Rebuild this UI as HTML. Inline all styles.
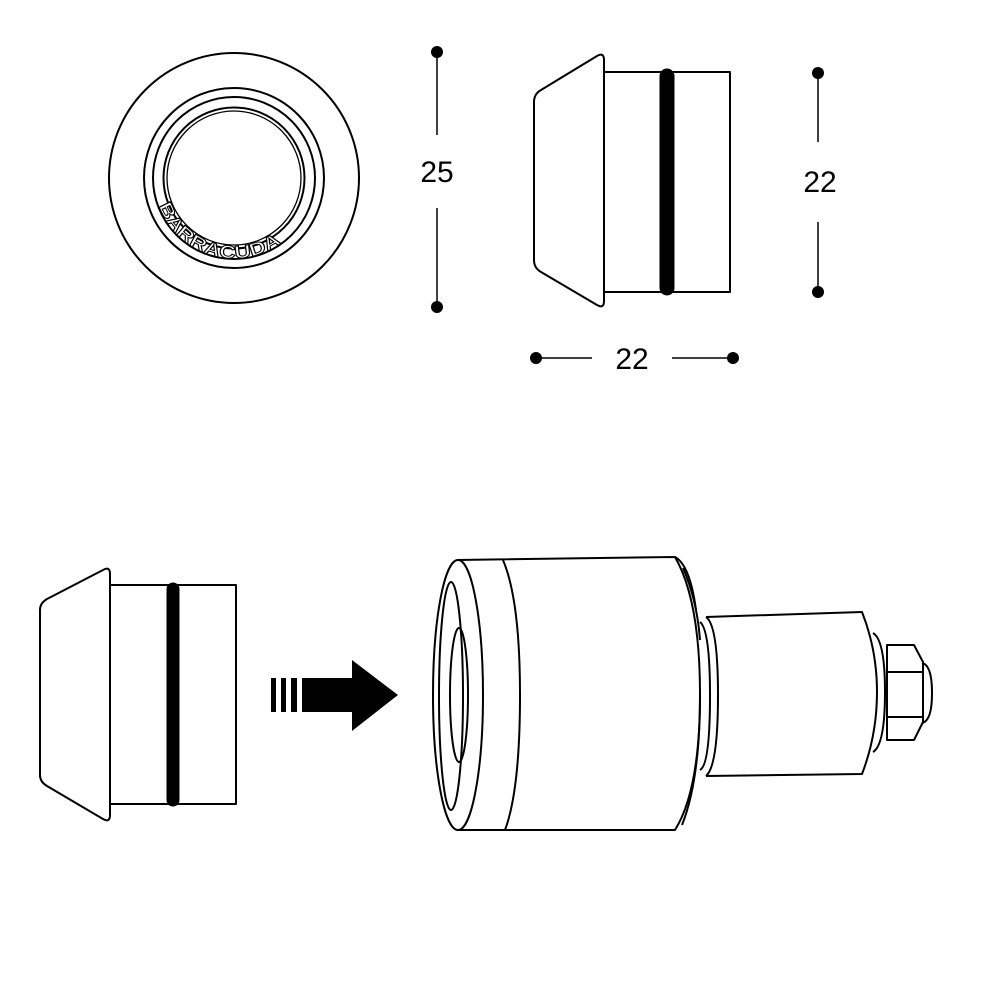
<!DOCTYPE html>
<html><head><style>html,body{margin:0;padding:0;background:#fff}svg{display:block}</style></head>
<body>
<svg width="1000" height="1000" viewBox="0 0 1000 1000" xmlns="http://www.w3.org/2000/svg">
<defs><path id="arc" d="M 157 200 A 80 80 0 0 0 311 200"/></defs>
<g fill="none" stroke="#000" stroke-width="2">
<circle cx="234" cy="178" r="125"/>
<circle cx="234" cy="178" r="90"/>
<circle cx="234" cy="178" r="81"/>
<circle cx="234" cy="178" r="70.5"/>
<circle cx="234" cy="178" r="67" stroke-width="1.3"/>
</g>
<text font-family="'Liberation Sans', sans-serif" font-size="18" font-weight="bold" fill="#fff" stroke="#000" stroke-width="1"><textPath href="#arc" startOffset="6" textLength="148" lengthAdjust="spacingAndGlyphs">BARRACUDA</textPath></text>
<g stroke="#000" stroke-width="1.5">
<line x1="437" y1="52" x2="437" y2="135"/><line x1="437" y1="208" x2="437" y2="307"/>
<line x1="818" y1="73" x2="818" y2="142"/><line x1="818" y1="222" x2="818" y2="292"/>
<line x1="536" y1="358" x2="592" y2="358"/><line x1="672" y1="358" x2="733" y2="358"/>
</g>
<g fill="#000">
<circle cx="437" cy="52" r="6"/><circle cx="437" cy="307" r="6"/>
<circle cx="818" cy="73" r="6"/><circle cx="818" cy="292" r="6"/>
<circle cx="536" cy="358" r="6"/><circle cx="733" cy="358" r="6"/>
</g>
<g font-family="Liberation Sans, sans-serif" font-size="30" text-anchor="middle" fill="#000">
<text x="437" y="182">25</text>
<text x="820" y="192">22</text>
<text x="632" y="369">22</text>
</g>
<g fill="none" stroke="#000" stroke-width="2" stroke-linejoin="round">
<path d="M604 60 Q604 52 597 56 L541 90 Q534 94 534 102 L534 260 Q534 268 541 272 L597 305 Q604 309 604 301 Z"/>
<rect x="604" y="72" width="126" height="220"/>
<path d="M40 610 Q40 603 47 599 L103 570 Q110 566 110 574 L110 815 Q110 823 103 819 L47 786 Q40 782 40 775 Z"/>
<rect x="110" y="585" width="126" height="219"/>
</g>
<line x1="667" y1="76" x2="667" y2="288" stroke="#000" stroke-width="15" stroke-linecap="round"/>
<line x1="173" y1="589" x2="173" y2="800" stroke="#000" stroke-width="13" stroke-linecap="round"/>
<g fill="#000">
<rect x="271" y="678" width="5" height="34"/>
<rect x="281" y="678" width="5" height="34"/>
<rect x="291" y="678" width="6" height="34"/>
<rect x="302" y="678" width="51" height="34"/>
<polygon points="352,660 398,695 352,731"/>
</g>
<g fill="none" stroke="#000" stroke-width="2" stroke-linejoin="round">
<path d="M457 560 L675 557 Q700 600 700 695 Q700 790 675 830 L457 830"/>
<path d="M675 557 Q690 565 696 610 M700 695 Q700 780 682 825"/>
<path d="M683 568 Q697 600 700 640"/>
<ellipse cx="458" cy="695" rx="25" ry="135"/>
<ellipse cx="451" cy="696" rx="12" ry="114"/>
<ellipse cx="459" cy="695" rx="9" ry="67"/>
<path d="M503 560 Q520 600 520 695 Q520 790 505 830"/>
<path d="M706 617 L862 612 Q877 650 877 692 Q877 735 862 774 L706 776"/>
<path d="M706 617 Q718 625 718 695 Q718 766 706 776"/>
<path d="M700 622 Q710 630 710 695 Q710 765 700 770"/>
<path d="M873 633 Q885 640 885 692 Q885 745 873 752"/>
<path d="M887 645 L914 645 L923 662 L923 722 L914 740 L887 740 Z"/>
<path d="M887 672 L923 672 M887 717 L923 717"/>
<path d="M922 663 Q932 665 932 693 Q932 721 922 723"/>
</g>
</svg>
</body></html>
